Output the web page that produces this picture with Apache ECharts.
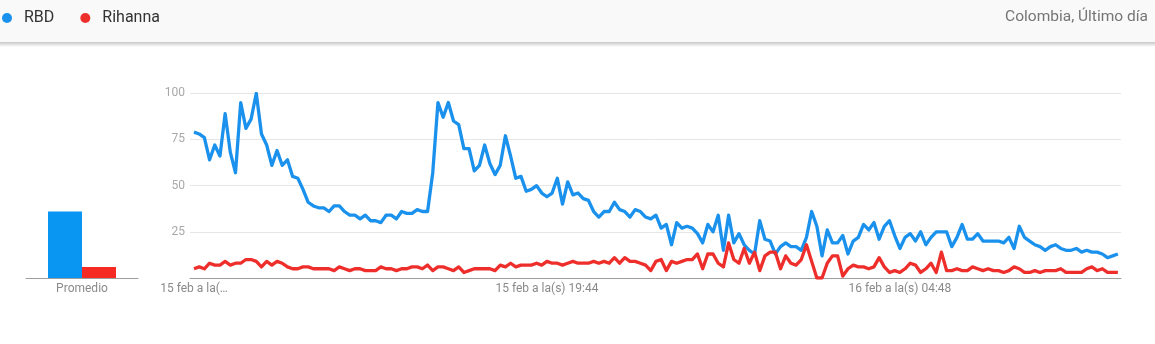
<!DOCTYPE html>
<html>
<head>
<meta charset="utf-8">
<script src="https://cdn.jsdelivr.net/npm/echarts@6/dist/echarts.min.js"></script>
<style>
html,body{margin:0;padding:0;background:#fff;}
#chart{width:1155px;height:344px;}
</style>
</head>
<body>
<div id="chart"></div>
<script>
// ---- data (8-minute steps, last 24 h) ----
const seriesNames = ['RBD', 'Rihanna'];
const rbd = [
  79, 78, 76, 64, 72, 66, 89, 68, 57, 95, 81, 86, 100, 78,
  72, 61, 69, 61, 64, 55, 54, 48, 41, 39, 38, 38, 36, 39, 39, 36, 34, 34, 32, 34, 31,
  31, 30, 34, 34, 32, 36, 35, 35, 37, 36, 36, 57, 95, 87, 95, 85, 83, 70, 70, 58, 61,
  72, 62, 56, 61, 77, 66, 54, 55, 47, 48, 50, 46, 44, 46, 54, 40, 52, 45, 46, 43,
  42, 36, 33, 36, 36, 41, 37, 36, 33, 37, 36, 33, 32, 34, 27, 29, 18, 30, 27, 28,
  27, 24, 19, 29, 25, 34, 15, 34, 19, 24, 18, 15, 13, 31, 21, 20, 13, 17, 19, 17,
  17, 15, 22, 36, 28, 12, 26, 19, 19, 23, 13, 20, 22, 29, 26, 30, 21, 28, 31, 23, 16,
  22, 24, 20, 25, 18, 22, 25, 25, 25, 17, 22, 29, 21, 21, 24, 20, 20, 20, 20, 19,
  22, 16, 28, 22, 20, 18, 17, 15, 17, 18, 16, 15, 15, 16, 14, 15, 14, 14, 13, 11, 12, 13
];
const rihanna = [
  5, 6, 5, 8, 7, 7, 9, 7, 8, 8, 10, 10, 9, 6,
  9, 7, 9, 8, 6, 5, 5, 6, 6, 5, 5, 5, 5, 4, 6, 5, 4, 5, 5, 4, 4,
  4, 6, 5, 5, 4, 5, 5, 6, 6, 5, 7, 4, 6, 6, 5, 4, 6, 3, 4, 5, 5,
  5, 5, 4, 7, 6, 8, 6, 7, 7, 7, 8, 7, 9, 8, 8, 7, 8, 9, 8, 8,
  8, 9, 8, 9, 8, 11, 8, 11, 9, 9, 8, 7, 4, 9, 10, 4, 9, 8, 9, 10,
  10, 13, 5, 13, 13, 8, 6, 19, 10, 8, 16, 8, 14, 4, 12, 14, 14, 5, 12, 8,
  7, 10, 18, 9, 0, 0, 8, 12, 12, 1, 5, 7, 6, 6, 5, 6, 11, 6, 3, 4, 3,
  5, 8, 7, 3, 5, 8, 3, 14, 4, 4, 5, 4, 4, 6, 5, 4, 5, 4, 4, 3,
  4, 6, 5, 3, 3, 4, 3, 4, 4, 4, 5, 3, 3, 3, 3, 5, 6, 4, 5, 3, 3, 3
];
const averages = [36, 6];
const averageCategories = ['Promedio'];
const xTickIndex = [0, 68, 136];
const xTickLabels = ['15 feb a la(…', '15 feb a la(s) 19:44', '16 feb a la(s) 04:48'];
const headerNote = 'Colombia, Último día';

// ---- chart ----
const BLUE = '#1a91ec';
const RED = '#ee2e2b';
const chart = echarts.init(document.getElementById('chart'), null, {renderer: 'canvas'});
const font = 'Roboto, "Noto Sans", sans-serif';

const toPairs = arr => arr.map((v, i) => [i, v]);

chart.setOption({
  animation: false,
  backgroundColor: '#ffffff',
  textStyle: {fontFamily: font},
  graphic: [
    {type: 'rect', shape: {x: 0, y: 0, width: 1155, height: 42}, style: {fill: '#f9f9f9'}, z: -10, silent: true},
    {type: 'rect', shape: {x: 0, y: 42, width: 1155, height: 5},
     style: {fill: new echarts.graphic.LinearGradient(0, 0, 0, 1, [
       {offset: 0, color: 'rgba(0,0,0,0.22)'}, {offset: 1, color: 'rgba(0,0,0,0)'}])},
     z: -10, silent: true}
  ],
  title: {
    text: headerNote, right: 7, top: 9, padding: 0,
    textStyle: {fontFamily: font, fontSize: 15.5, fontWeight: 'normal', color: '#757575'}
  },
  legend: {
    left: 2, top: 10, padding: 0,
    icon: 'circle', itemWidth: 10, itemHeight: 10, itemGap: 26,
    data: [
      {name: seriesNames[0], itemStyle: {color: BLUE}},
      {name: seriesNames[1], itemStyle: {color: RED}}
    ],
    textStyle: {fontFamily: font, fontSize: 16, color: '#333', padding: [0, 0, 0, 7]}
  },
  grid: [
    {left: 190, right: 34, top: 93.3, bottom: 66},
    {left: 26, width: 112, top: 93.3, bottom: 66}
  ],
  xAxis: [
    {
      gridIndex: 0, type: 'value', min: -0.77, max: 178.6,
      splitLine: {show: false},
      axisTick: {show: false},
      axisLine: {show: true, lineStyle: {color: '#9e9e9e', width: 1}},
      axisLabel: {
        customValues: xTickIndex,
        margin: 5, fontSize: 12, color: '#8a8a8a', fontFamily: font,
        formatter: v => { const k = xTickIndex.indexOf(Math.round(v)); return k >= 0 ? xTickLabels[k] : ''; }
      }
    },
    {
      gridIndex: 1, type: 'category', data: averageCategories,
      axisTick: {show: false},
      axisLine: {show: true, lineStyle: {color: '#9e9e9e', width: 1}},
      axisLabel: {margin: 5, fontSize: 12, color: '#8a8a8a', fontFamily: font}
    }
  ],
  yAxis: [
    {
      gridIndex: 0, type: 'value', min: 0, max: 100, interval: 25,
      axisLine: {show: false}, axisTick: {show: false},
      splitLine: {lineStyle: {color: '#e6e6e6', width: 1}},
      axisLabel: {margin: 5, fontSize: 12, color: '#a8a8a8', fontFamily: font,
        formatter: v => v === 0 ? '' : String(v)}
    },
    {
      gridIndex: 1, type: 'value', min: 0, max: 100, show: false
    }
  ],
  series: [
    {
      name: seriesNames[0], type: 'line', xAxisIndex: 0, yAxisIndex: 0,
      data: toPairs(rbd), symbol: 'none', smooth: false,
      lineStyle: {color: BLUE, width: 3.3, join: 'round'}, itemStyle: {color: BLUE}, z: 3
    },
    {
      name: seriesNames[1], type: 'line', xAxisIndex: 0, yAxisIndex: 0,
      data: toPairs(rihanna), symbol: 'none', smooth: false,
      lineStyle: {color: RED, width: 3.3, join: 'round'}, itemStyle: {color: RED}, z: 4
    },
    {
      name: seriesNames[0], type: 'bar', xAxisIndex: 1, yAxisIndex: 1,
      data: [averages[0]], barWidth: 34, barGap: '0%',
      itemStyle: {color: '#0896f2'}
    },
    {
      name: seriesNames[1], type: 'bar', xAxisIndex: 1, yAxisIndex: 1,
      data: [averages[1]], barWidth: 34, barGap: '0%',
      itemStyle: {color: '#f52a22'}
    }
  ]
});
</script>
</body>
</html>
